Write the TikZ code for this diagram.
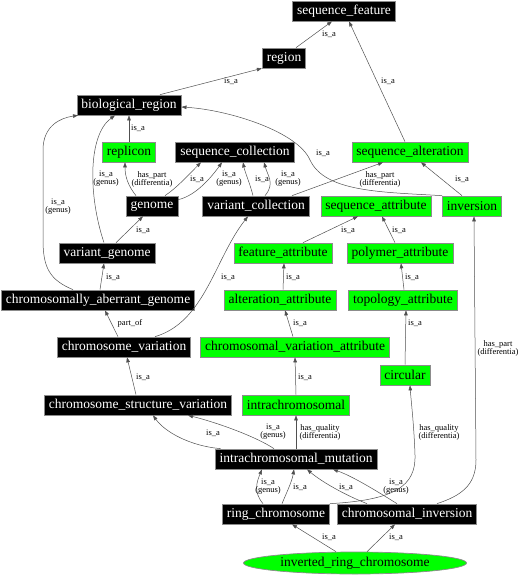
\documentclass[tikz,border=0pt]{standalone}
\usepackage{fontspec}
\setmainfont{Liberation Serif}
\usetikzlibrary{arrows.meta,shapes.geometric}
\definecolor{nodegreen}{RGB}{0,255,0}
\definecolor{edgegray}{RGB}{80,80,80}
\begin{document}
\begin{tikzpicture}[x=1pt,y=-1pt,
  term/.style={rectangle,draw=black!45,line width=0.7pt,minimum height=20pt,inner xsep=4.5pt,inner ysep=2pt,font=\fontsize{13.5}{14}\selectfont},
  blk/.style={term,fill=black,text=white},
  grn/.style={term,fill=nodegreen,text=black},
  lbl/.style={font=\fontsize{8.5}{8}\selectfont,align=center,inner sep=0pt},
  rel/.style={draw=edgegray,line width=0.5pt,-{Triangle[length=5pt,width=3.6pt]}}
  ]
    \useasboundingbox (0,0) rectangle (525,576);

    \node[blk] (seqfeat) at (344,11) {sequence\_feature};
    \node[blk] (region) at (284,58) {region};
    \node[blk] (bioreg) at (129,105) {biological\_region};
    \node[grn] (replicon) at (129,152) {replicon};
    \node[blk] (seqcoll) at (235,152) {sequence\_collection};
    \node[grn] (seqalt) at (410,152) {sequence\_alteration};
    \node[blk] (genome) at (152,206) {genome};
    \node[blk] (varcoll) at (256,206) {variant\_collection};
    \node[grn] (seqattr) at (376,206) {sequence\_attribute};
    \node[grn] (inversion) at (472,206) {inversion};
    \node[blk] (vargen) at (107,253) {variant\_genome};
    \node[grn] (featattr) at (283,253) {feature\_attribute};
    \node[grn] (polyattr) at (400,253) {polymer\_attribute};
    \node[blk] (cag) at (98,300) {chromosomally\_aberrant\_genome};
    \node[grn] (altattr) at (280,300) {alteration\_attribute};
    \node[grn] (topoattr) at (403,300) {topology\_attribute};
    \node[blk] (chromvar) at (124,347) {chromosome\_variation};
    \node[grn] (cva) at (295,347) {chromosomal\_variation\_attribute};
    \node[grn] (circular) at (405,375) {circular};
    \node[blk] (csv) at (138,405) {chromosome\_structure\_variation};
    \node[grn] (intrachrom) at (296,405) {intrachromosomal};
    \node[blk] (imut) at (296,459) {intrachromosomal\_mutation};
    \node[blk] (ringchr) at (276,514) {ring\_chromosome};
    \node[blk] (chrominv) at (407,514) {chromosomal\_inversion};
    \node[ellipse,draw=black!45,line width=0.7pt,fill=nodegreen,minimum width=223pt,minimum height=22pt,inner sep=0pt,font=\fontsize{13.5}{14}\selectfont] (irc) at (355,563) {inverted\_ring\_chromosome};

    \draw[rel] ([xshift=12pt]region.north) -- ([xshift=-12pt]seqfeat.south) node[lbl] at (329,34) {is\_a};
    \draw[rel] ([xshift=-5pt]seqalt.north) -- ([xshift=5pt]seqfeat.south) node[lbl] at (388,81) {is\_a};
    \draw[rel] ([xshift=31pt]bioreg.north) -- (region.south west) node[lbl] at (231,81) {is\_a};
    \draw[rel] (replicon.north) -- (bioreg.south) node[lbl] at (138,128) {is\_a};
    \draw[rel] (inversion.north west) .. controls (380,192) and (325,192) .. (310,160) .. controls (298,132) and (230,110) .. ([yshift=-2pt]bioreg.east) node[lbl] at (323,153) {is\_a};
    \draw[rel] ([xshift=-10pt]inversion.north) -- ([xshift=11pt]seqalt.south) node[lbl] at (462,179) {is\_a};
    \draw[rel] ([xshift=-16pt]genome.north) .. controls +(-8,-10) and +(0,14) .. ([xshift=-4pt]replicon.south) node[lbl] at (152,179) {has\_part\\(differentia)};
    \draw[rel] ([xshift=13pt]genome.north) .. controls +(12,-8) and +(-12,12) .. ([xshift=-34pt]seqcoll.south) node[lbl] at (197,179) {is\_a};
    \draw[rel] ([yshift=-4pt]genome.north east) .. controls +(18,-4) and +(-10,14) .. ([xshift=-13pt]seqcoll.south) node[lbl] at (229,179) {is\_a\\(genus)};
    \draw[rel] ([xshift=-3pt]varcoll.north) .. controls +(-3,-12) and +(2,10) .. ([xshift=8pt]seqcoll.south) node[lbl] at (262,179) {is\_a};
    \draw[rel] ([xshift=9pt]varcoll.north) .. controls +(10,-12) and +(4,14) .. ([xshift=29pt]seqcoll.south) node[lbl] at (288,179) {is\_a\\(genus)};
    \draw[rel] ([xshift=36pt]varcoll.north) -- ([xshift=-27pt]seqalt.south) node[lbl] at (380,179) {has\_part\\(differentia)};
    \draw[rel] ([xshift=-3pt]vargen.north) .. controls (88,195) and (88,135) .. ([xshift=-14pt]bioreg.south) node[lbl] at (106,179) {is\_a\\(genus)};
    \draw[rel] ([xshift=9pt]vargen.north) -- ([xshift=-9pt]genome.south) node[lbl] at (143,230) {is\_a};
    \draw[rel] ([xshift=-25pt]cag.north) .. controls (50,280) and (43,268) .. (43,240) -- (43,150) .. controls (43,126) and (60,118) .. ([xshift=-51pt]bioreg.south) node[lbl] at (58,207) {is\_a\\(genus)};
    \draw[rel] ([xshift=2pt]cag.north) -- ([xshift=-3pt]vargen.south) node[lbl] at (113,277) {is\_a};
    \draw[rel] ([xshift=-6pt]chromvar.north) -- ([xshift=7pt]cag.south) node[lbl] at (130,323) {part\_of};
    \draw[rel] ([xshift=31pt]chromvar.north) .. controls (205,322) and (215,258) .. ([xshift=-8pt]varcoll.south) node[lbl] at (228,277) {is\_a};
    \draw[rel] ([xshift=20pt]featattr.north) -- ([xshift=-18pt]seqattr.south) node[lbl] at (348,230) {is\_a};
    \draw[rel] ([xshift=-5pt]polyattr.north) -- ([xshift=6pt]seqattr.south) node[lbl] at (399,230) {is\_a};
    \draw[rel] ([xshift=3pt]altattr.north) -- ([xshift=1pt]featattr.south) node[lbl] at (293,277) {is\_a};
    \draw[rel] ([xshift=1pt]topoattr.north) -- ([xshift=1pt]polyattr.south) node[lbl] at (412,277) {is\_a};
    \draw[rel] ([xshift=-2pt]cva.north) -- ([xshift=5pt]altattr.south) node[lbl] at (300,323) {is\_a};
    \draw[rel] (circular.north) -- ([xshift=3pt]topoattr.south) node[lbl] at (415,323) {is\_a};
    \draw[rel] (intrachrom.north) -- (cva.south) node[lbl] at (305,377) {is\_a};
    \draw[rel] ([xshift=-2pt]csv.north) -- ([xshift=3pt]chromvar.south) node[lbl] at (143,377) {is\_a};
    \draw[rel] ([xshift=6pt]imut.north west) .. controls (190,446) and (165,432) .. ([xshift=15pt]csv.south) node[lbl] at (213,433) {is\_a};
    \draw[rel] ([xshift=-22pt]imut.north) .. controls (255,436) and (215,422) .. ([xshift=50pt]csv.south) node[lbl] at (273,432) {is\_a\\(genus)};
    \draw[rel] (imut.north) -- (intrachrom.south) node[lbl] at (320,432) {has\_quality\\(differentia)};
    \draw[rel] ([xshift=-13pt]ringchr.north) .. controls +(-10,-12) and +(-5,12) .. ([xshift=-34pt]imut.south) node[lbl] at (268,487) {is\_a\\(genus)};
    \draw[rel] ([xshift=6pt]ringchr.north) .. controls +(5,-12) and +(-2,12) .. ([xshift=-2pt]imut.south) node[lbl] at (300,487) {is\_a};
    \draw[rel] (ringchr.north east) .. controls (395,500) and (416,486) .. (415,455) .. controls (414,425) and (411,400) .. ([xshift=5pt]circular.south) node[lbl] at (439,432) {has\_quality\\(differentia)};
    \draw[rel] ([xshift=-40pt]chrominv.north) .. controls (345,495) and (322,482) .. ([xshift=11pt]imut.south) node[lbl] at (346,487) {is\_a};
    \draw[rel] ([xshift=-10pt]chrominv.north) .. controls (375,490) and (352,476) .. ([xshift=37pt]imut.south) node[lbl] at (396,487) {is\_a\\(genus)};
    \draw[rel] ([xshift=30pt]chrominv.north) .. controls (460,496) and (476,486) .. (476,460) -- ([xshift=2pt]inversion.south) node[lbl] at (498,348) {has\_part\\(differentia)};
    \draw[rel] ([xshift=-19pt]irc.north) -- ([xshift=16pt]ringchr.south) node[lbl] at (329,537) {is\_a};
    \draw[rel] ([xshift=12pt]irc.north) -- ([xshift=-12pt]chrominv.south) node[lbl] at (396,537) {is\_a};
\end{tikzpicture}
\end{document}
